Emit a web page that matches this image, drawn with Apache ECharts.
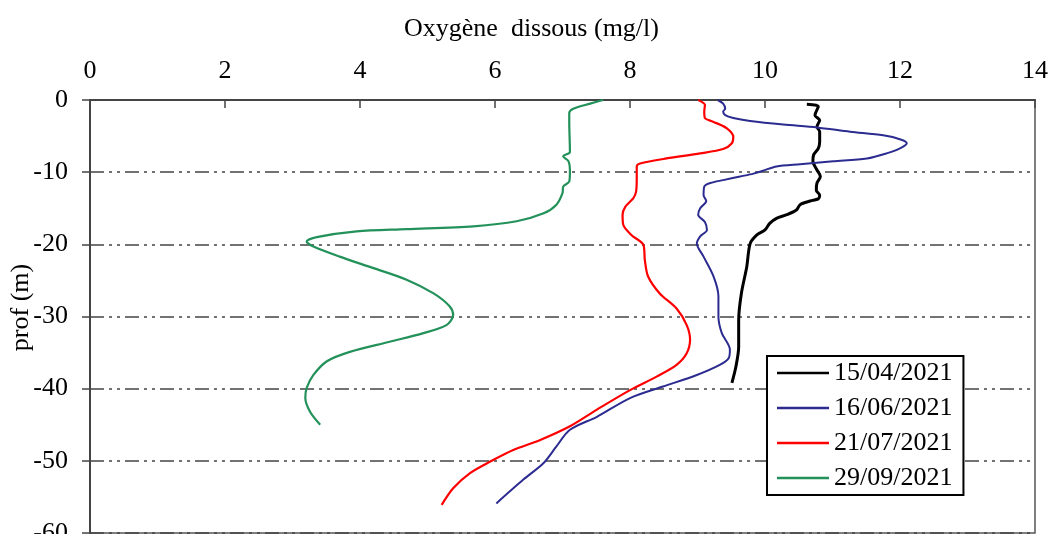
<!DOCTYPE html>
<html>
<head>
<meta charset="utf-8">
<script src="https://cdn.jsdelivr.net/npm/echarts@6/dist/echarts.min.js"></script>
<style>
  html, body { margin: 0; padding: 0; background: #fff; }
  #chart { width: 1051px; height: 534px; }
</style>
</head>
<body>
<div id="chart"></div>
<script>
// Dissolved-oxygen vertical profiles: depth (m, negative downward) and O2 (mg/l)
const seriesNames = ['15/04/2021', '16/06/2021', '21/07/2021', '29/09/2021'];

const depthApr = [-0.6, -0.9, -2.1, -2.8, -3.7, -4.4, -5.8, -6.7, -7.6, -8.5, -9.7, -10.6, -11.5, -12.5, -13.2, -13.7, -14.0, -14.5, -15.2, -15.9, -16.4, -17.1, -18.0, -18.7, -19.9, -23.1, -26.8, -30.5, -34.2, -36.9, -39.2];
const oxyApr   = [10.62, 10.79, 10.74, 10.81, 10.77, 10.81, 10.81, 10.79, 10.72, 10.71, 10.77, 10.82, 10.77, 10.76, 10.81, 10.79, 10.67, 10.52, 10.47, 10.32, 10.17, 10.07, 10.0, 9.88, 9.78, 9.73, 9.65, 9.61, 9.61, 9.57, 9.51];

const depthJun = [0, -0.5, -1.2, -1.6, -2.1, -2.5, -2.9, -3.4, -3.8, -4.4, -4.9, -5.5, -6.0, -6.7, -7.4, -8.1, -8.5, -8.9, -9.2, -9.8, -10.2, -10.6, -11.1, -11.5, -12.0, -13.2, -14.0, -15.0, -15.9, -16.9, -18.0, -18.9, -19.9, -21.7, -24.5, -27.2, -30.0, -32.3, -34.6, -35.8, -36.7, -38.1, -39.7, -41.3, -43.9, -45.7, -48.0, -50.3, -52.6, -55.9];
const oxyJun   = [9.30, 9.38, 9.41, 9.38, 9.41, 9.53, 9.78, 10.27, 10.77, 11.26, 11.75, 12.02, 12.10, 12.0, 11.80, 11.51, 11.01, 10.52, 10.17, 9.97, 9.83, 9.63, 9.38, 9.19, 9.10, 9.09, 9.13, 9.04, 9.01, 9.11, 9.14, 9.04, 8.99, 9.09, 9.24, 9.31, 9.31, 9.36, 9.48, 9.46, 9.33, 8.99, 8.49, 8.0, 7.51, 7.11, 6.91, 6.72, 6.42, 6.02];

const depthJul = [0, -0.7, -1.6, -2.5, -3.0, -3.9, -5.1, -6.0, -6.8, -7.4, -8.1, -8.8, -9.2, -10.8, -12.7, -13.6, -14.8, -15.9, -17.3, -18.7, -20.1, -22.2, -24.5, -26.8, -28.9, -31.2, -33.2, -35.1, -36.7, -38.3, -40.2, -42.9, -45.2, -47.1, -48.5, -50.1, -51.7, -53.8, -56.1];
const oxyJul   = [9.01, 9.11, 9.10, 9.11, 9.23, 9.43, 9.53, 9.51, 9.38, 9.04, 8.54, 8.15, 8.10, 8.10, 8.09, 8.05, 7.93, 7.89, 7.90, 8.02, 8.20, 8.22, 8.27, 8.44, 8.69, 8.84, 8.89, 8.84, 8.69, 8.40, 8.0, 7.51, 7.11, 6.67, 6.27, 5.93, 5.63, 5.38, 5.21];

const depthSep = [0, -0.5, -1.2, -1.8, -3.0, -7.2, -7.8, -8.5, -9.9, -11.3, -12.0, -12.9, -14.5, -15.7, -16.8, -17.5, -17.9, -18.2, -19.0, -19.6, -20.3, -21.7, -23.3, -24.9, -26.8, -28.6, -29.8, -31.2, -32.3, -33.5, -34.9, -36.2, -38.1, -39.9, -41.3, -43.2, -45.0];
const oxySep   = [7.60, 7.41, 7.16, 7.10, 7.10, 7.11, 7.01, 7.09, 7.11, 7.10, 7.01, 7.00, 6.91, 6.72, 6.32, 5.68, 4.69, 3.95, 3.36, 3.21, 3.31, 3.70, 4.20, 4.69, 5.09, 5.33, 5.38, 5.28, 4.94, 4.44, 3.85, 3.51, 3.31, 3.21, 3.19, 3.26, 3.41];

const xTicks = { min: 0, max: 14, step: 2 };
const yTicks = { min: -60, max: 0, step: 10 };

const FONT = 'Liberation Serif';

function pairs(xs, ys) { return xs.map((x, i) => [x, ys[i]]); }

const profiles = [
  { name: seriesNames[0], x: oxyApr, y: depthApr, color: '#000000', width: 3 },
  { name: seriesNames[1], x: oxyJun, y: depthJun, color: '#2b2b90', width: 2 },
  { name: seriesNames[2], x: oxyJul, y: depthJul, color: '#ff0000', width: 2.2 },
  { name: seriesNames[3], x: oxySep, y: depthSep, color: '#23915a', width: 2.2 }
];

const chart = echarts.init(document.getElementById('chart'), null, { renderer: 'canvas' });

chart.setOption({
  animation: false,
  backgroundColor: '#ffffff',
  textStyle: { fontFamily: FONT },
  grid: {
    left: 90, right: 16, top: 100, bottom: 1,
    outerBoundsMode: 'none',
    containLabel: false,
    show: true, borderColor: '#555', borderWidth: 1.5, backgroundColor: 'transparent'
  },
  legend: {
    orient: 'vertical',
    left: 767, top: 356,
    padding: [4, 11, 4, 10],
    itemGap: 9,
    itemWidth: 52,
    itemHeight: 2.5,
    icon: 'rect',
    backgroundColor: '#ffffff',
    borderColor: '#000',
    borderWidth: 2,
    textStyle: { fontFamily: FONT, fontSize: 26, color: '#000', lineHeight: 26 },
    data: profiles.map(p => ({ name: p.name, icon: 'rect', itemStyle: { color: p.color } }))
  },
  xAxis: {
    type: 'value',
    position: 'top',
    min: xTicks.min, max: xTicks.max, interval: xTicks.step,
    name: 'Oxygène  dissous (mg/l)',
    nameLocation: 'middle',
    nameGap: 58,
    nameMoveOverlap: false,
    nameTextStyle: { fontFamily: FONT, fontSize: 26, color: '#000', padding: [0, 62, 0, 0] },
    axisLine: { show: true, lineStyle: { color: '#444', width: 2 } },
    axisTick: { show: true, inside: true, length: 8, lineStyle: { color: '#444', width: 1.5 } },
    axisLabel: { fontFamily: FONT, fontSize: 26, color: '#000', margin: 16 },
    splitLine: { show: false }
  },
  yAxis: {
    type: 'value',
    min: yTicks.min, max: yTicks.max, interval: yTicks.step,
    name: 'prof (m)',
    nameLocation: 'middle',
    nameRotate: 90,
    nameGap: 56,
    nameMoveOverlap: false,
    nameTextStyle: { fontFamily: FONT, fontSize: 26, color: '#000', padding: [0, 0, 0, 18] },
    axisLine: { show: true, onZero: false, lineStyle: { color: '#444', width: 2 } },
    axisTick: { show: true, inside: false, length: 8, lineStyle: { color: '#444', width: 1.5 } },
    axisLabel: { fontFamily: FONT, fontSize: 26, color: '#000', margin: 22 },
    splitLine: {
      show: true,
      lineStyle: { color: '#444', width: 1.6, type: [14, 5, 3, 5, 3, 5] }
    }
  },
  series: profiles.map(p => ({
    name: p.name,
    type: 'line',
    data: pairs(p.x, p.y),
    showSymbol: false,
    symbol: 'none',
    smooth: 0.3,
    lineStyle: { color: p.color, width: p.width },
    itemStyle: { color: p.color },
    z: 3
  }))
});
</script>
</body>
</html>
